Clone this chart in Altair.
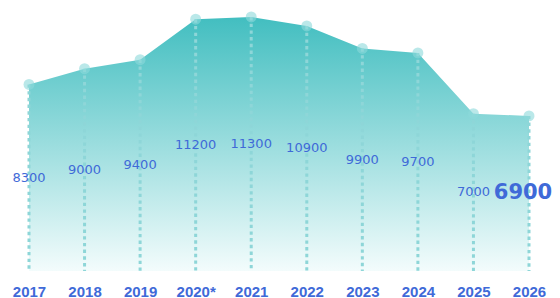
import altair as alt
import pandas as pd

years = ["2017", "2018", "2019", "2020*", "2021", "2022", "2023", "2024", "2025", "2026"]
values = [8300, 9000, 9400, 11200, 11300, 10900, 9900, 9700, 7000, 6900]

df = pd.DataFrame({"year": years, "value": values})
df["half"] = df["value"] / 2
df["last"] = [False] * (len(years) - 1) + [True]

xenc = alt.X("year:N", sort=years, scale=alt.Scale(type="point", padding=0),
             axis=alt.Axis(title=None, labelAngle=0, domain=False, ticks=False, grid=False,
                           labelFont="Liberation Sans", labelFontSize=15, labelFontWeight="bold",
                           labelColor="#3f6ad8", labelPadding=13))
yscale = alt.Scale(domain=[0, 11700], nice=False, zero=True)

base = alt.Chart(df)

area = base.mark_area(
    color=alt.Gradient(gradient="linear",
                       stops=[alt.GradientStop(color="#42bec0", offset=0),
                              alt.GradientStop(color="#f3fcfc", offset=1)],
                       x1=1, x2=1, y1=0, y2=1),
    interpolate="linear"
).encode(x=xenc, y=alt.Y("value:Q", scale=yscale, axis=None))

rules = base.mark_rule(color="#8ed6d8", strokeWidth=3, strokeDash=[3.4, 3.3]).encode(
    x=alt.X("year:N", sort=years), y=alt.Y("value:Q", scale=yscale), y2=alt.datum(0)
)

points = base.mark_circle(size=120, color="#8cd9da", opacity=0.6).encode(
    x=alt.X("year:N", sort=years), y=alt.Y("value:Q", scale=yscale)
)

labels = base.transform_filter("!datum.last").mark_text(
    font="DejaVu Sans", fontSize=13, color="#3f6ad8", align="center", baseline="middle"
).encode(x=alt.X("year:N", sort=years), y=alt.Y("half:Q", scale=yscale), text="value:Q")

last_label = base.transform_filter("datum.last").mark_text(
    font="DejaVu Sans", fontSize=21, fontWeight="bold", color="#3f6ad8", align="center",
    baseline="middle", dx=-6
).encode(x=alt.X("year:N", sort=years), y=alt.Y("half:Q", scale=yscale), text="value:Q")

chart = alt.layer(area, rules, points, labels, last_label).properties(
    width=500, height=263,
    autosize=alt.AutoSizeParams(type="none"),
    padding={"left": 21, "top": 0, "right": 23, "bottom": 27}
).configure_view(stroke=None)

chart.save("out.html", embed_options={"renderer": "svg", "actions": False})
